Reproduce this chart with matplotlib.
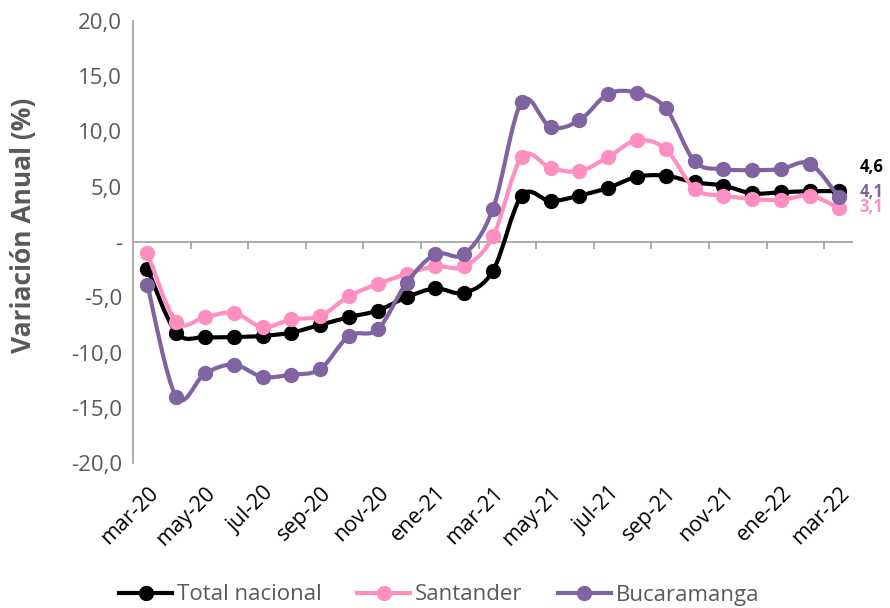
import matplotlib
matplotlib.use("Agg")
import matplotlib.pyplot as plt
from matplotlib.path import Path
from matplotlib.patches import PathPatch
from matplotlib.lines import Line2D
import numpy as np

plt.rcParams['font.family'] = ['Open Sans', 'DejaVu Sans']

months = ["mar-20", "abr-20", "may-20", "jun-20", "jul-20", "ago-20", "sep-20",
          "oct-20", "nov-20", "dic-20", "ene-21", "feb-21", "mar-21", "abr-21",
          "may-21", "jun-21", "jul-21", "ago-21", "sep-21", "oct-21", "nov-21",
          "dic-21", "ene-22", "feb-22", "mar-22"]

total_nacional = [-2.4, -8.2, -8.6, -8.6, -8.5, -8.2, -7.5, -6.8, -6.2, -5.0, -4.2,
                  -4.6, -2.6, 4.2, 3.7, 4.2, 4.9, 5.9, 6.0, 5.4, 5.1, 4.4, 4.5,
                  4.6, 4.6]
santander = [-1.0, -7.2, -6.8, -6.4, -7.7, -7.0, -6.7, -4.9, -3.8, -2.9, -2.2,
             -2.2, 0.5, 7.7, 6.7, 6.4, 7.7, 9.2, 8.4, 4.8, 4.2, 3.9, 3.8,
             4.2, 3.1]
bucaramanga = [-3.9, -14.0, -11.9, -11.1, -12.2, -12.0, -11.5, -8.5, -7.9, -3.7,
               -1.1, -1.1, 3.0, 12.7, 10.4, 11.0, 13.4, 13.5, 12.1, 7.3, 6.6,
               6.5, 6.6, 7.1, 4.1]

series_names = ["Total nacional", "Santander", "Bucaramanga"]
series_values = [total_nacional, santander, bucaramanga]
colors = ["#000000", "#FF8FC0", "#8064A2"]
end_labels = ["4,6", "3,1", "4,1"]
label_offsets = [17.5, 0.5, 3.5]   # vertical offsets (points) for end labels

yticks = [-20, -15, -10, -5, 0, 5, 10, 15, 20]
ytick_labels = ["-20,0", "-15,0", "-10,0", "-5,0", "-", "5,0", "10,0", "15,0", "20,0"]

GRAY = "#595959"
AXIS_GRAY = "#A6A6A6"


def smooth_path(x, y):
    pts = np.column_stack([x, y]).astype(float)
    n = len(pts)
    verts = [pts[0]]
    codes = [Path.MOVETO]
    for i in range(n - 1):
        p0 = pts[i - 1] if i > 0 else pts[i]
        p1 = pts[i]
        p2 = pts[i + 1]
        p3 = pts[i + 2] if i + 2 < n else pts[i + 1]
        c1 = p1 + (p2 - p0) / 6.0
        c2 = p2 - (p3 - p1) / 6.0
        verts += [c1, c2, p2]
        codes += [Path.CURVE4] * 3
    return Path(verts, codes)


fig = plt.figure(figsize=(8.9, 6.08), dpi=100)
ax = fig.add_axes([133 / 890, 1 - 463 / 608, (853 - 133) / 890, (463 - 21) / 608])

x = np.arange(len(months))

# zero axis line with tick marks between categories (every 2 categories)
ax.axhline(0, color=AXIS_GRAY, lw=1.3, zorder=1)
for xt in np.arange(1.5, len(months) - 1, 2):
    ax.plot([xt, xt], [0, -0.65], color=AXIS_GRAY, lw=1.3, zorder=1,
            solid_capstyle='butt')

for name, vals, col in zip(series_names, series_values, colors):
    patch = PathPatch(smooth_path(x, vals), fill=False, edgecolor=col, lw=3.0,
                      capstyle='round', joinstyle='round', zorder=2)
    ax.add_patch(patch)
    ax.plot(x, vals, 'o', color=col, markersize=10, ls='none', zorder=2)

for vals, col, lab, off in zip(series_values, colors, end_labels, label_offsets):
    ax.annotate(lab, xy=(x[-1], vals[-1]), xytext=(15, off), textcoords='offset points',
                color=col, fontsize=12, fontweight='bold', ha='left', va='center',
                annotation_clip=False)

ax.set_xlim(-0.5, len(months) - 0.5)
ax.set_ylim(-20, 20)

for s in ['top', 'right', 'bottom']:
    ax.spines[s].set_visible(False)
ax.spines['left'].set_color(AXIS_GRAY)
ax.spines['left'].set_linewidth(1.3)

ax.set_yticks(yticks)
ax.set_yticklabels(ytick_labels)
ax.tick_params(axis='y', length=0, pad=8, labelsize=16, labelcolor=GRAY)

ax.set_xticks(x[::2])
ax.set_xticklabels(months[::2], rotation=45, ha='right', va='top',
                   rotation_mode='anchor')
ax.tick_params(axis='x', length=0, pad=14, labelsize=15.5, labelcolor='#000000')

ax.set_ylabel("Variación Anual (%)", fontsize=19, fontweight='bold', color=GRAY)
ax.yaxis.set_label_coords(-0.133, 0.538)

handles = [Line2D([0], [0], color=c, lw=3.0, marker='o', markersize=10) for c in colors]
leg = fig.legend(handles, series_names, loc='center',
                 bbox_to_anchor=(0.5 - 6 / 890, 1 - 595 / 608),
                 ncol=3, frameon=False, fontsize=16, handlelength=2.4,
                 handletextpad=0.2, columnspacing=1.6)
for t in leg.get_texts():
    t.set_color(GRAY)

fig.savefig("out.png", dpi=100)
